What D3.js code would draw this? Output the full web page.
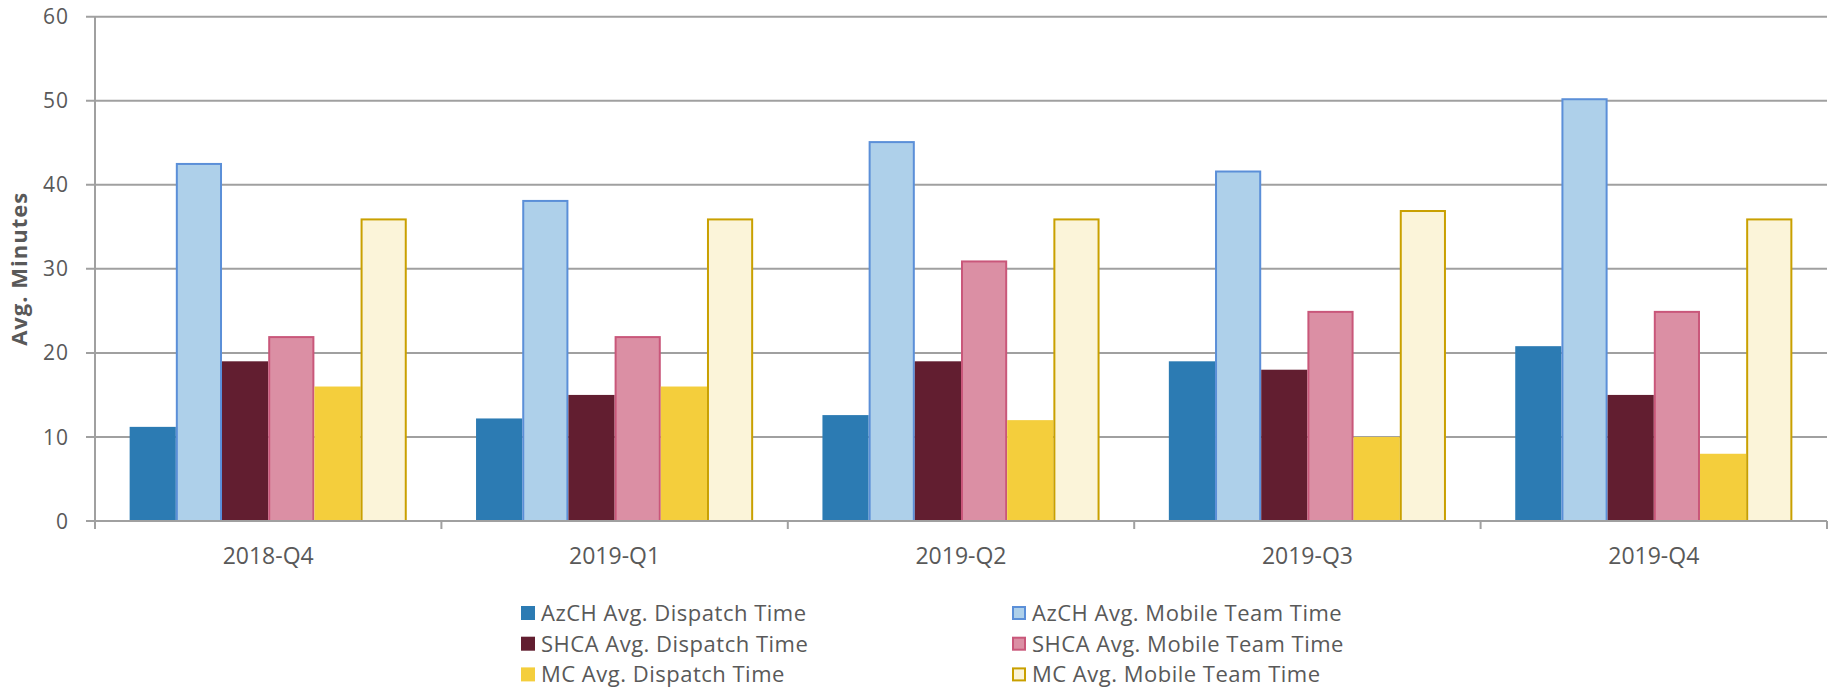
<!DOCTYPE html>
<html>
<head>
<meta charset="utf-8">
<script src="https://cdn.jsdelivr.net/npm/d3@7"></script>
<style>
  html, body { margin: 0; padding: 0; background: #fff; }
  svg { display: block; font-family: "Open Sans", "Noto Sans", sans-serif; }
</style>
</head>
<body>
<svg id="chart" width="1831" height="688"></svg>
<script>
// quarters along the x axis
var quarters = ["2018-Q4", "2019-Q1", "2019-Q2", "2019-Q3", "2019-Q4"];

// one array per series, in quarter order
var azchDispatch = [11.2, 12.2, 12.6, 19, 20.8];
var azchMobile   = [42.6, 38.2, 45.2, 41.7, 50.3];
var shcaDispatch = [19, 15, 19, 18, 15];
var shcaMobile   = [22, 22, 31, 25, 25];
var mcDispatch   = [16, 16, 12, 10, 8];
var mcMobile     = [36, 36, 36, 37, 36];

var yTicks = [0, 10, 20, 30, 40, 50, 60];

var series = [
  { name: "AzCH Avg. Dispatch Time",    values: azchDispatch, fill: "#2c7bb3", stroke: null },
  { name: "AzCH Avg. Mobile Team Time", values: azchMobile,   fill: "#aed0ea", stroke: "#5b8fd8" },
  { name: "SHCA Avg. Dispatch Time",    values: shcaDispatch, fill: "#621e30", stroke: null },
  { name: "SHCA Avg. Mobile Team Time", values: shcaMobile,   fill: "#db8fa4", stroke: "#c9577a" },
  { name: "MC Avg. Dispatch Time",      values: mcDispatch,   fill: "#f4ce3c", stroke: null },
  { name: "MC Avg. Mobile Team Time",   values: mcMobile,     fill: "#fbf4d9", stroke: "#c9a000" }
];

var svg = d3.select("#chart");
var plotLeft = 95, plotRight = 1827, plotTop = 16.7, plotBottom = 521;
var gridColor = "#a0a0a0", textColor = "#595959";

var x0 = d3.scaleBand().domain(quarters).range([plotLeft, plotRight]).padding(0);
var x1 = d3.scaleBand().domain(d3.range(series.length))
  .range([x0.bandwidth() * 0.1, x0.bandwidth() * 0.9]).padding(0);
var y = d3.scaleLinear().domain([0, 60]).range([plotBottom, plotTop]);

// gridlines + y ticks
var grid = svg.append("g");
grid.selectAll("line").data(yTicks).enter().append("line")
  .attr("x1", plotLeft - 9).attr("x2", plotRight)
  .attr("y1", function (d) { return y(d); }).attr("y2", function (d) { return y(d); })
  .attr("stroke", gridColor).attr("stroke-width", 2);

grid.selectAll("text").data(yTicks).enter().append("text")
  .attr("x", 69).attr("y", function (d) { return y(d); })
  .attr("dy", "0.36em")
  .attr("text-anchor", "end")
  .attr("font-size", 21)
  .attr("letter-spacing", 1)
  .attr("fill", textColor)
  .text(function (d) { return d; });

// y axis line
svg.append("line")
  .attr("x1", plotLeft).attr("x2", plotLeft)
  .attr("y1", plotTop).attr("y2", plotBottom + 8)
  .attr("stroke", gridColor).attr("stroke-width", 2);

// x ticks at band edges
var edges = quarters.map(function (q) { return x0(q); }).concat([plotRight]);
svg.append("g").selectAll("line").data(edges.slice(1)).enter().append("line")
  .attr("x1", function (d) { return d; }).attr("x2", function (d) { return d; })
  .attr("y1", plotBottom).attr("y2", plotBottom + 8)
  .attr("stroke", gridColor).attr("stroke-width", 2);

// bars
var groups = svg.append("g").selectAll("g").data(quarters).enter().append("g")
  .attr("transform", function (q) { return "translate(" + x0(q) + ",0)"; });

groups.selectAll("rect")
  .data(function (q, i) {
    return series.map(function (s, k) { return { k: k, s: s, v: s.values[i] }; });
  })
  .enter().append("rect")
  .attr("x", function (d) { return x1(d.k) + (d.s.stroke ? 1 : 0); })
  .attr("width", function (d) { return x1.bandwidth() - (d.s.stroke ? 2 : 0); })
  .attr("y", function (d) { return y(d.v) + (d.s.stroke ? 1 : 0); })
  .attr("height", function (d) { return plotBottom - y(d.v) - (d.s.stroke ? 1 : 0); })
  .attr("fill", function (d) { return d.s.fill; })
  .attr("stroke", function (d) { return d.s.stroke || "none"; })
  .attr("stroke-width", 2);

// baseline drawn over bars
svg.append("line")
  .attr("x1", plotLeft).attr("x2", plotRight)
  .attr("y1", plotBottom).attr("y2", plotBottom)
  .attr("stroke", gridColor).attr("stroke-width", 2);

// x labels
svg.append("g").selectAll("text").data(quarters).enter().append("text")
  .attr("x", function (q) { return x0(q) + x0.bandwidth() / 2; })
  .attr("y", 564)
  .attr("text-anchor", "middle")
  .attr("font-size", 23)
  .attr("fill", textColor)
  .text(function (q) { return q; });

// y title
svg.append("text")
  .attr("transform", "translate(27," + ((plotTop + plotBottom) / 2) + ") rotate(-90)")
  .attr("text-anchor", "middle")
  .attr("font-size", 22)
  .attr("letter-spacing", 1)
  .attr("font-weight", "bold")
  .attr("fill", textColor)
  .text("Avg. Minutes");

// legend: two columns, three rows
var legend = svg.append("g").selectAll("g").data(series).enter().append("g")
  .attr("transform", function (d, i) {
    var col = i % 2, row = Math.floor(i / 2);
    return "translate(" + (col ? 1012 : 521) + "," + (612 + row * 30.7) + ")";
  });

legend.append("rect")
  .attr("x", function (d) { return d.stroke ? 1 : 0; })
  .attr("y", function (d) { return -6 + (d.stroke ? 1 : 0); })
  .attr("width", function (d) { return d.stroke ? 12 : 14; })
  .attr("height", function (d) { return d.stroke ? 12 : 14; })
  .attr("fill", function (d) { return d.fill; })
  .attr("stroke", function (d) { return d.stroke || "none"; })
  .attr("stroke-width", 2);

legend.append("text")
  .attr("x", 20).attr("y", 1)
  .attr("dy", "0.36em")
  .attr("font-size", 22)
  .attr("letter-spacing", 0.5)
  .attr("fill", textColor)
  .text(function (d) { return d.name; });
</script>
</body>
</html>
